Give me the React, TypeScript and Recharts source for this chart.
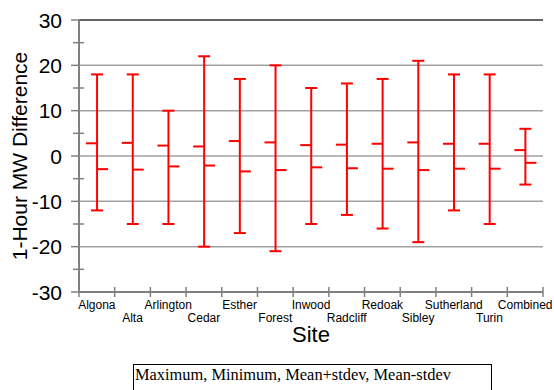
import React from 'react';
import { ComposedChart, Bar, XAxis, YAxis, ReferenceLine, CartesianGrid } from 'recharts';

const sites = ['Algona', 'Alta', 'Arlington', 'Cedar', 'Esther', 'Forest', 'Inwood', 'Radcliff', 'Redoak', 'Sibley', 'Sutherland', 'Turin', 'Combined'];
const maximum = [18, 18, 10, 22, 17, 20, 15, 16, 17, 21, 18, 18, 6];
const minimum = [-12, -15, -15, -20, -17, -21, -15, -13, -16, -19, -12, -15, -6.3];
const meanPlusStdev = [2.8, 2.9, 2.3, 2.1, 3.3, 3.0, 2.4, 2.5, 2.7, 3.0, 2.7, 2.7, 1.3];
const meanMinusStdev = [-2.9, -3.0, -2.3, -2.1, -3.4, -3.1, -2.5, -2.7, -2.8, -3.1, -2.8, -2.8, -1.5];
const yTicks = [-30, -25, -20, -15, -10, -5, 0, 5, 10, 15, 20, 25, 30];
const gridValues = [-20, -10, 0, 10, 20];

const data = sites.map((s, i) => ({
  site: s,
  range: [minimum[i], maximum[i]],
  max: maximum[i],
  min: minimum[i],
  hi: meanPlusStdev[i],
  lo: meanMinusStdev[i],
}));

const FONT = '"Liberation Sans", Arial, sans-serif';
const RED = '#ff0000';

const HLOC = (props: any) => {
  const { x, y, width, height, payload } = props;
  if (x == null || y == null) return null;
  const top = Math.min(y, y + height);
  const bottom = Math.max(y, y + height);
  const cx = x + width / 2;
  const { max, min, hi, lo } = payload;
  const toPx = (v: number) => top + ((max - v) / (max - min)) * (bottom - top);
  const pHi = toPx(hi);
  const pLo = toPx(lo);
  return (
    <g stroke={RED} strokeWidth={2} fill="none">
      <line x1={cx} y1={top} x2={cx} y2={bottom} />
      <line x1={cx - 6} y1={top} x2={cx + 6} y2={top} />
      <line x1={cx - 6} y1={bottom} x2={cx + 6} y2={bottom} />
      <line x1={cx - 11} y1={pHi} x2={cx} y2={pHi} />
      <line x1={cx} y1={pLo} x2={cx + 11} y2={pLo} />
    </g>
  );
};

const XTick = (props: any) => {
  const { x, y, payload, index } = props;
  const half = payload && payload.offset ? payload.offset : 17.8;
  const row = index % 2;
  return (
    <g>
      <line x1={x - half} y1={y - 5} x2={x - half} y2={y + 5} stroke="#808080" strokeWidth={1.5} />
      {index === sites.length - 1 && (
        <line x1={x + half} y1={y - 5} x2={x + half} y2={y + 5} stroke="#808080" strokeWidth={1.5} />
      )}
      <text x={x} y={y + (row === 0 ? 16.5 : 29.5)} textAnchor="middle" fontFamily={FONT} fontSize={12} fill="#000">
        {payload.value}
      </text>
    </g>
  );
};

const YTick = (props: any) => {
  const { x, y, payload } = props;
  const v = payload.value;
  if (v % 10 === 0) {
    return (
      <g>
        <line x1={x - 8} y1={y} x2={x} y2={y} stroke="#808080" strokeWidth={1.5} />
        <text x={x - 17} y={y + 7.5} textAnchor="end" fontFamily={FONT} fontSize={21} fill="#000">
          {v}
        </text>
      </g>
    );
  }
  return <line x1={x - 6} y1={y} x2={x + 5} y2={y} stroke="#808080" strokeWidth={1.5} />;
};

export default function App() {
  return (
    <div style={{ position: 'absolute', left: 0, top: 0, width: 554, height: 390, background: '#fff' }}>
      <ComposedChart
        width={554}
        height={390}
        data={data}
        margin={{ top: 20, right: 11, left: 0, bottom: 0 }}
      >
        <CartesianGrid
          yAxisId="left"
          vertical={false}
          horizontalValues={gridValues}
          stroke="#a0a0a0"
          strokeWidth={1.5}
        />
        <XAxis
          dataKey="site"
          interval={0}
          height={98}
          tickSize={0}
          tickMargin={0}
          tickLine={false}
          axisLine={{ stroke: '#808080', strokeWidth: 2 }}
          tick={<XTick />}
          label={(p: any) => {
            const vb = p.viewBox || {};
            return (
              <text x={vb.x + vb.width / 2} y={vb.y + 50} textAnchor="middle" fontFamily={FONT} fontSize={22} fill="#000">
                Site
              </text>
            );
          }}
        />
        <YAxis
          yAxisId="left"
          type="number"
          domain={[-30, 30]}
          ticks={yTicks}
          interval={0}
          width={79}
          tickSize={0}
          tickMargin={0}
          tickLine={false}
          axisLine={{ stroke: '#808080', strokeWidth: 2 }}
          tick={<YTick />}
          label={(p: any) => {
            const vb = p.viewBox || {};
            const cx = vb.x + 19;
            const cy = vb.y + vb.height / 2;
            return (
              <text x={cx} y={cy} transform={`rotate(-90 ${cx} ${cy})`} textAnchor="middle" dominantBaseline="central" fontFamily={FONT} fontSize={21} fill="#000">
                1-Hour MW Difference
              </text>
            );
          }}
        />
        <YAxis
          yAxisId="right"
          orientation="right"
          type="number"
          domain={[-30, 30]}
          width={0}
          tick={false}
          tickLine={false}
          axisLine={{ stroke: '#000', strokeWidth: 1.5 }}
        />
        <ReferenceLine yAxisId="left" y={30} stroke="#333" strokeWidth={1.5} />
        <Bar yAxisId="left" dataKey="range" shape={<HLOC />} isAnimationActive={false} />
      </ComposedChart>
      <svg width={554} height={390} style={{ position: 'absolute', left: 0, top: 0, pointerEvents: 'none' }}>
        <rect x={133.5} y={364.5} width={358} height={40} fill="#fff" stroke="#000" strokeWidth={1} />
        <text x={135} y={380} fontFamily='"Liberation Serif", "Times New Roman", serif' fontSize={16.4} fill="#000">
          Maximum, Minimum, Mean+stdev, Mean-stdev
        </text>
      </svg>
    </div>
  );
}
